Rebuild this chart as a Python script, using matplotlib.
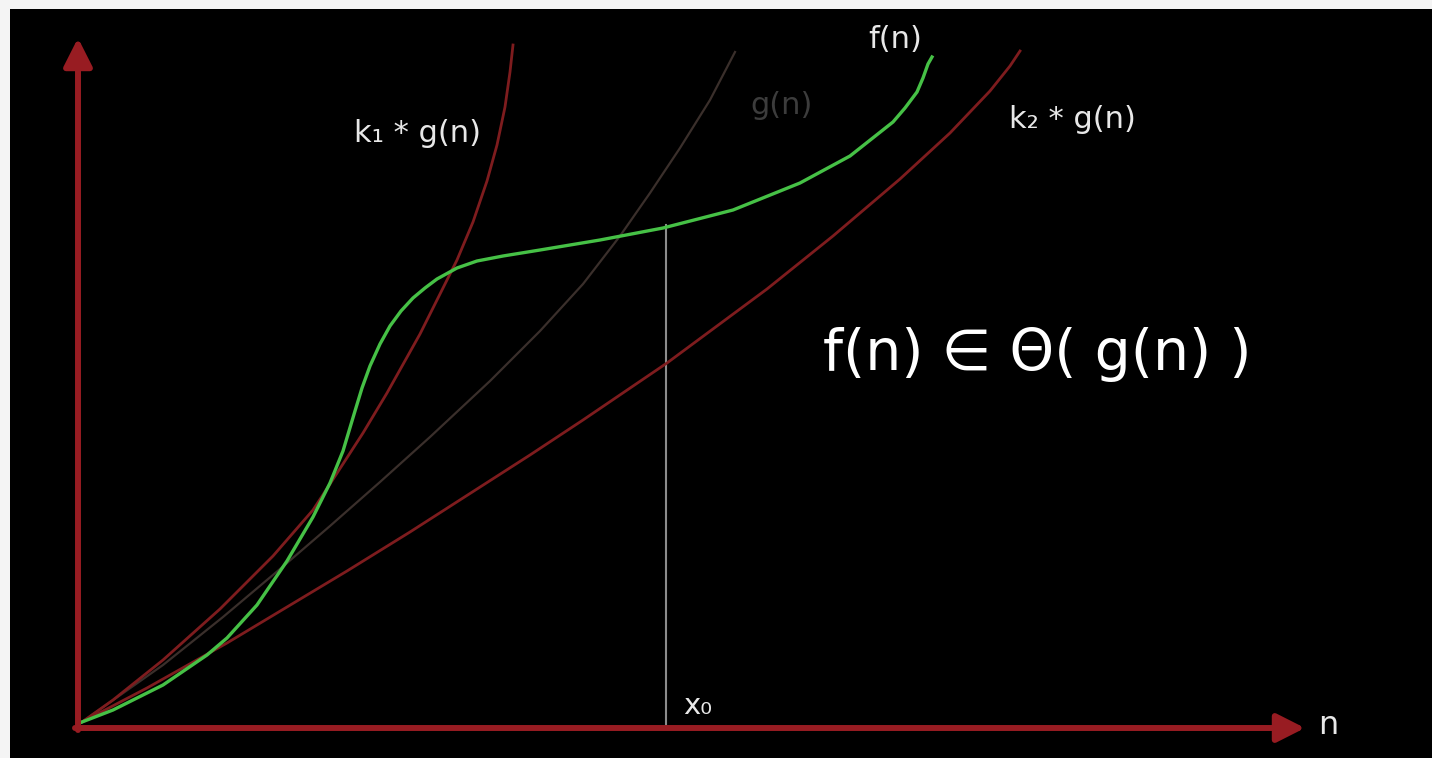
"""
Theta notation sketch: f(n) squeezed between k1*g(n) and k2*g(n) beyond x0.
"""

import matplotlib
matplotlib.use("Agg")
import matplotlib.pyplot as plt
from matplotlib.patches import Rectangle

plt.rcParams["font.family"] = ["DejaVu Sans"]

# curves (n, value), origin at the axes corner
k1_n = [0, 31, 81, 138, 191, 231, 248, 281, 305, 338, 375, 391, 405, 415, 423, 428, 431]
k1_v = [0, 22, 62, 113, 166, 212, 238, 289, 329, 388, 462, 500, 541, 577, 615, 650, 677]

g_n = [0, 81, 141, 198, 248, 298, 348, 408, 458, 501, 538, 568, 598, 628, 653]
g_v = [0, 57, 105, 153, 196, 240, 285, 341, 391, 438, 486, 529, 574, 622, 670]

f_n = [0, 31, 81, 125, 145, 175, 205, 231, 248, 261, 267, 273, 280, 288, 298,
       308, 319, 331, 343, 355, 375, 395, 421, 458, 518, 581, 651, 718, 768,
       811, 823, 835, 841, 846, 850]
f_v = [0, 12, 37, 67, 84, 117, 161, 205, 239, 271, 291, 311, 334, 356, 378,
       396, 411, 424, 434, 443, 454, 461, 466, 472, 482, 494, 512, 539, 566,
       600, 614, 630, 644, 658, 665]

k2_n = [0, 65, 145, 265, 328, 448, 501, 585, 685, 751, 818, 868, 908, 928, 938]
k2_v = [0, 34, 79, 151, 190, 267, 302, 359, 433, 486, 543, 589, 631, 656, 671]

x0_n = 584
x0_f = 497

AXIS_RED = "#981c22"
CURVE_RED = "#7e1c1e"
GREEN = "#46c146"
G_GRAY = "#3a2f2b"
TEXT = "#e8e8e8"

fig = plt.figure(figsize=(14.32, 7.58), dpi=100, facecolor="#f4f4f4")
fig.patches.append(Rectangle((10 / 1432, 0), 1, 749 / 758, transform=fig.transFigure,
                             facecolor="black", edgecolor="none", zorder=-10))

ax = fig.add_axes([0, 0, 1, 1])
ax.set_zorder(1)
ax.set_xlim(-82, 1350)
ax.set_ylim(-36, 722)
ax.axis("off")
ax.patch.set_alpha(0)

# curves
ax.plot(g_n, g_v, color=G_GRAY, lw=1.6, solid_joinstyle="round", zorder=2)
ax.plot(k2_n, k2_v, color=CURVE_RED, lw=2.0, solid_joinstyle="round", zorder=3)
ax.plot(k1_n, k1_v, color=CURVE_RED, lw=2.0, solid_joinstyle="round", zorder=3)
ax.plot(f_n, f_v, color=GREEN, lw=2.4, solid_joinstyle="round", zorder=4)

# x0 marker
ax.plot([x0_n, x0_n], [-6, x0_f], color="#8c8c8c", lw=1.5, zorder=1)

# axes arrows
arrow = dict(arrowstyle="-|>,head_length=0.85,head_width=0.43", color=AXIS_RED,
             lw=4.3, shrinkA=0, shrinkB=0, mutation_scale=20)
ax.annotate("", xy=(1223, -6), xytext=(-7, -6), arrowprops=arrow, zorder=5)
ax.annotate("", xy=(-4, 684), xytext=(-4, -8), arrowprops=arrow, zorder=5)

# labels
ax.text(336, 589, "k\u2081 * g(n)", color=TEXT, fontsize=22,
        ha="center", va="center")
ax.text(700, 617, "g(n)", color="#3c3c3c", fontsize=22,
        ha="center", va="center")
ax.text(813, 682, "f(n)", color=TEXT, fontsize=22,
        ha="center", va="center")
ax.text(990, 602, "k\u2082 * g(n)", color=TEXT, fontsize=22,
        ha="center", va="center")
ax.text(616, 16, "x\u2080", color=TEXT, fontsize=21,
        ha="center", va="center")
ax.text(1246, -4, "n", color=TEXT, fontsize=23,
        ha="center", va="center")
ax.text(955, 368, "f(n) \u2208 \u0398( g(n) )", color="white", fontsize=41,
        ha="center", va="center")

plt.savefig("out.png", dpi=100, facecolor=fig.get_facecolor())
